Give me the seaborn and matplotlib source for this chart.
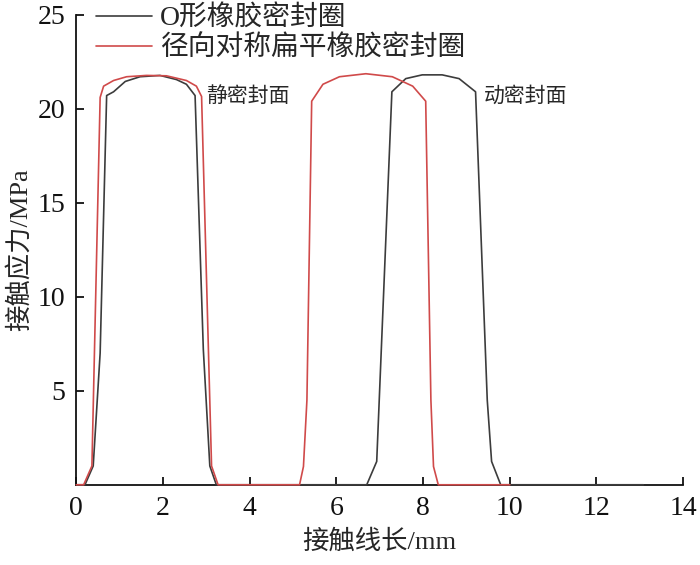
import numpy as np
import pandas as pd
import seaborn as sns
import matplotlib.pyplot as plt

# O形橡胶密封圈 contact stress curve (mm, MPa)
o_ring_x = [0, 0.2, 0.39, 0.55, 0.70, 0.86, 1.13, 1.47, 1.93, 2.31, 2.54, 2.74,
            2.93, 3.08, 3.23, 6.70, 6.93, 7.28, 7.6, 7.98, 8.44, 8.83, 9.21,
            9.48, 9.58, 9.79, 13.08]
o_ring_y = [0, 0, 1.0, 7.0, 20.7, 20.9, 21.45, 21.7, 21.77, 21.55, 21.3, 20.7,
            7.2, 1.0, 0, 0, 1.24, 20.9, 21.6, 21.8, 21.8, 21.6, 20.9,
            4.5, 1.24, 0, 0]

# 径向对称扁平橡胶密封圈 contact stress curve
flat_x = [0, 0.17, 0.36, 0.55, 0.63, 0.86, 1.16, 1.62, 2.08, 2.54, 2.77, 2.89,
          3.12, 3.27, 5.15, 5.24, 5.32, 5.43, 5.69, 6.07, 6.68, 7.29, 7.76,
          8.06, 8.18, 8.24, 8.35, 10.0]
flat_y = [0, 0, 1.0, 20.6, 21.2, 21.5, 21.7, 21.77, 21.75, 21.5, 21.2, 20.65,
          1.0, 0, 0, 0.97, 4.5, 20.4, 21.3, 21.7, 21.86, 21.7, 21.2,
          20.4, 4.5, 0.97, 0, 0]

labels = ['O形橡胶密封圈', '径向对称扁平橡胶密封圈']
x_ticks = [0, 2, 4, 6, 8, 10, 12, 14]
y_ticks = [5, 10, 15, 20, 25]


def main():
    sns.set_theme(style='ticks')
    plt.rcParams['font.family'] = ['Liberation Serif', 'Noto Sans CJK SC', 'DejaVu Sans']
    plt.rcParams['axes.unicode_minus'] = False

    fig = plt.figure(figsize=(7, 5.65), dpi=100)
    ax = fig.add_axes([0.109, 0.142, 0.867, 0.832])

    df_o = pd.DataFrame({'x': o_ring_x, 'y': o_ring_y})
    df_f = pd.DataFrame({'x': flat_x, 'y': flat_y})

    sns.lineplot(data=df_o, x='x', y='y', ax=ax, color='#3c3c3c', lw=1.2,
                 label=labels[0], estimator=None, sort=False,
                 clip_on=False, zorder=4)
    sns.lineplot(data=df_f, x='x', y='y', ax=ax, color='#d04a4a', lw=1.2,
                 label=labels[1], estimator=None, sort=False,
                 clip_on=False, zorder=5)

    ax.set_xlim(0, 14)
    ax.set_ylim(0, 25)
    ax.set_xticks(x_ticks)
    ax.set_yticks(y_ticks)
    ax.tick_params(direction='in', length=6, width=1.3, labelsize=20, pad=8,
                   colors='#111111')
    for s in ['top', 'right']:
        ax.spines[s].set_visible(False)
    for s in ['left', 'bottom']:
        ax.spines[s].set_linewidth(1.3)
        ax.spines[s].set_color('#111111')
        ax.spines[s].set_zorder(2)

    ax.set_xlabel('接触线长/mm', fontsize=19, labelpad=6)
    ax.set_ylabel('接触应力/MPa', fontsize=19, labelpad=4)

    ax.text(3.0, 20.6, '静密封面', fontsize=15, va='center', ha='left')
    ax.text(9.4, 20.6, '动密封面', fontsize=15, va='center', ha='left')

    ax.legend(loc='upper left', bbox_to_anchor=(0.033, 1.02), frameon=False,
              fontsize=20, handlelength=2.0, handletextpad=0.3,
              labelspacing=0.15, borderpad=0, borderaxespad=0)

    plt.savefig('out.png', dpi=100)


if __name__ == "__main__":
    main()
